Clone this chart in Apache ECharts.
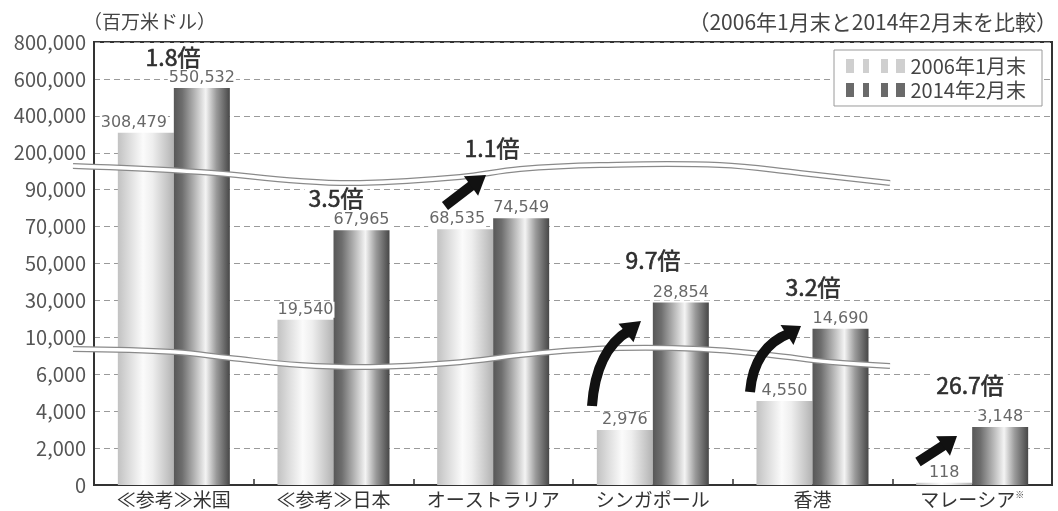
<!DOCTYPE html>
<html><head><meta charset="utf-8">
<script src="https://cdn.jsdelivr.net/npm/echarts@6/dist/echarts.min.js"></script>
<style>html,body{margin:0;padding:0;background:#fff}#c{width:1058px;height:511px}</style>
</head><body><div id="c"></div>
<script>
const categories = ['≪参考≫米国', '≪参考≫日本', 'オーストラリア', 'シンガポール', '香港', 'マレーシア※'];
const seriesNames = ['2006年1月末', '2014年2月末'];
const v2006 = [308479, 19540, 68535, 2976, 4550, 118];
const v2014 = [550532, 67965, 74549, 28854, 14690, 3148];
const yTicks = [0, 2000, 4000, 6000, 10000, 30000, 50000, 70000, 90000, 200000, 400000, 600000, 800000];
const ratioLabels = ['1.8倍', '3.5倍', '1.1倍', '9.7倍', '3.2倍', '26.7倍'];
const unitLabel = '（百万米ドル）';
const noteLabel = '（2006年1月末と2014年2月末を比較）';

// piecewise (broken) scale: each tick interval takes one equal step
function toPos(v) {
  for (let i = 0; i < yTicks.length - 1; i++) {
    if (v <= yTicks[i + 1]) return i + (v - yTicks[i]) / (yTicks[i + 1] - yTicks[i]);
  }
  return yTicks.length - 1;
}
const fmt = v => v.toLocaleString('en-US');

const W = 1058, H = 511;
const G = { left: 94, right: 6, top: 42, bottom: 26 };

const FONT = '"Noto Sans CJK JP", "Noto Sans", sans-serif';
const NUMFONT = '"DejaVu Sans", sans-serif';

const lightGrad = new echarts.graphic.LinearGradient(0, 0, 1, 0, [
  { offset: 0, color: '#c2c2c2' }, { offset: 0.2, color: '#dcdcdc' },
  { offset: 0.45, color: '#fbfbfb' }, { offset: 0.62, color: '#eeeeee' },
  { offset: 0.88, color: '#c6c6c6' }, { offset: 1, color: '#b2b2b2' }]);
const darkGrad = new echarts.graphic.LinearGradient(0, 0, 1, 0, [
  { offset: 0, color: '#575757' }, { offset: 0.15, color: '#6e6e6e' },
  { offset: 0.42, color: '#c4c4c4' }, { offset: 0.57, color: '#f4f4f4' },
  { offset: 0.76, color: '#9a9a9a' }, { offset: 1, color: '#474747' }]);

// decorations (break lines, arrows, ratio texts) in pixel space
const upperBreak = [[73,166],[200,172],[300,181],[360,183],[460,177],[520,169],[600,165],[720,165],[800,173],[890,183]];
const lowerBreak = [[73,349],[175,352],[230,358],[300,365],[370,367],[450,363],[540,353],[620,348],[700,349],[770,355],[830,362],[890,366]];

function breakLine(pts) {
  return [
    { type: 'polyline', z: 100, shape: { points: pts, smooth: 0.4 }, style: { stroke: '#8a8a8a', lineWidth: 6, fill: null } },
    { type: 'polyline', z: 101, shape: { points: pts, smooth: 0.4 }, style: { stroke: '#ffffff', lineWidth: 3.5, fill: null } }
  ];
}

function arrow(p0, cp, p1, tip) {
  const dx = tip[0] - p1[0], dy = tip[1] - p1[1];
  const len = Math.hypot(dx, dy), nx = -dy / len, ny = dx / len, hw = 12;
  const els = [];
  const shape = { x1: p0[0], y1: p0[1], x2: p1[0] + dx * 0.2, y2: p1[1] + dy * 0.2 };
  if (cp) { shape.cpx1 = cp[0]; shape.cpy1 = cp[1]; } else { shape.cpx1 = (p0[0] + p1[0]) / 2; shape.cpy1 = (p0[1] + p1[1]) / 2; }
  els.push({ type: 'bezierCurve', z: 110, shape: shape, style: { stroke: '#111', lineWidth: 10, fill: null, lineCap: 'butt' } });
  els.push({ type: 'polygon', z: 111, shape: { points: [[p1[0] + nx * hw, p1[1] + ny * hw], tip, [p1[0] - nx * hw, p1[1] - ny * hw]] }, style: { fill: '#111' } });
  return els;
}

const ratioPos = [[173,57],[336,198],[492,148],[653,260],[813,287],[970,385]];
const ratioTexts = ratioLabels.map((t, i) => ({
  type: 'text', z: 120,
  style: { text: t, x: ratioPos[i][0], y: ratioPos[i][1], align: 'center', verticalAlign: 'middle',
    textAlign: 'center', textVerticalAlign: 'middle',
    font: 'normal 23px ' + FONT, fill: '#2e2e2e', stroke: '#2e2e2e', lineWidth: 0.6,
    backgroundColor: '#fff', padding: [0, 4] }
}));

const graphics = [].concat(
  breakLine(upperBreak), breakLine(lowerBreak),
  arrow([445,206], null, [471,186], [486,175]),
  arrow([592,406], [596,350], [626,333], [641,321]),
  arrow([750,392], [754,347], [787,335], [801,326]),
  arrow([918,462], null, [943,446], [957,436]),
  ratioTexts
);

const shiftLeft = { 0: -12, 2: -8 };
function mkData(vals, shifts) {
  return vals.map((v, i) => {
    const d = { value: toPos(v), raw: v };
    if (shifts && shifts[i] !== undefined) d.label = { offset: [shifts[i], 0] };
    return d;
  });
}

const labelStyle = {
  show: true, position: 'top', distance: 2,
  formatter: p => fmt(p.data.raw),
  fontFamily: NUMFONT, fontSize: 16, color: '#686868',
  backgroundColor: '#fff', padding: [0, 1]
};

const chart = echarts.init(document.getElementById('c'), null, { renderer: 'canvas' });
chart.setOption({
  backgroundColor: '#fff',
  animation: false,
  title: [
    { text: unitLabel, left: 78, top: 7, textStyle: { fontFamily: FONT, fontSize: 19, fontWeight: 'normal', color: '#444' } },
    { text: noteLabel, right: -4, top: 7, textStyle: { fontFamily: FONT, fontSize: 21, fontWeight: 'normal', color: '#444' } }
  ],
  legend: {
    orient: 'vertical', right: 16, top: 50,
    itemWidth: 60, itemHeight: 14, itemGap: 4,
    padding: [6, 16, 6, 12],
    backgroundColor: '#fff', borderColor: '#9a9a9a', borderWidth: 1,
    textStyle: { fontFamily: FONT, fontSize: 20, color: '#444' },
    data: [
      { name: seriesNames[0], icon: 'path://M0,0h8v14h-8z M17,0h6v14h-6z M35,0h7v14h-7z M50,0h9v14h-9z', itemStyle: { color: '#cfcfcf' } },
      { name: seriesNames[1], icon: 'path://M0,0h8v14h-8z M17,0h6v14h-6z M35,0h7v14h-7z M50,0h9v14h-9z', itemStyle: { color: '#6a6a6a' } }
    ]
  },
  grid: { left: G.left, right: G.right, top: G.top, bottom: G.bottom, show: true, borderColor: '#333', borderWidth: 2, backgroundColor: 'transparent' },
  xAxis: {
    type: 'category', data: categories,
    axisLine: { lineStyle: { color: '#333', width: 2 } },
    axisTick: { show: true, inside: true, length: 6, lineStyle: { color: '#333', width: 1.5 } },
    axisLabel: {
      interval: 0, margin: 5, fontFamily: FONT, fontSize: 19, color: '#333',
      formatter: v => v.endsWith('※') ? v.slice(0, -1) + '{s|※}' : v,
      rich: { s: { fontSize: 9, verticalAlign: 'top', color: '#333', fontFamily: FONT, padding: [0, 0, 8, 0] } }
    }
  },
  yAxis: {
    type: 'value', min: 0, max: yTicks.length - 1, interval: 1,
    axisLine: { show: true, lineStyle: { color: '#333', width: 2 } },
    axisTick: { show: false },
    splitLine: { show: true, lineStyle: { color: '#9a9a9a', type: [6, 4], width: 1 } },
    axisLabel: { margin: 8, fontFamily: FONT, fontSize: 20, color: '#555', formatter: v => fmt(yTicks[Math.round(v)]) }
  },
  series: [
    { name: seriesNames[0], type: 'bar', barWidth: 56, barGap: '0%', data: mkData(v2006, shiftLeft),
      itemStyle: { color: lightGrad }, label: labelStyle, z: 2 },
    { name: seriesNames[1], type: 'bar', barWidth: 56, barGap: '0%', data: mkData(v2014),
      itemStyle: { color: darkGrad }, label: labelStyle, z: 2 }
  ],
  graphic: graphics
});
</script></body></html>
